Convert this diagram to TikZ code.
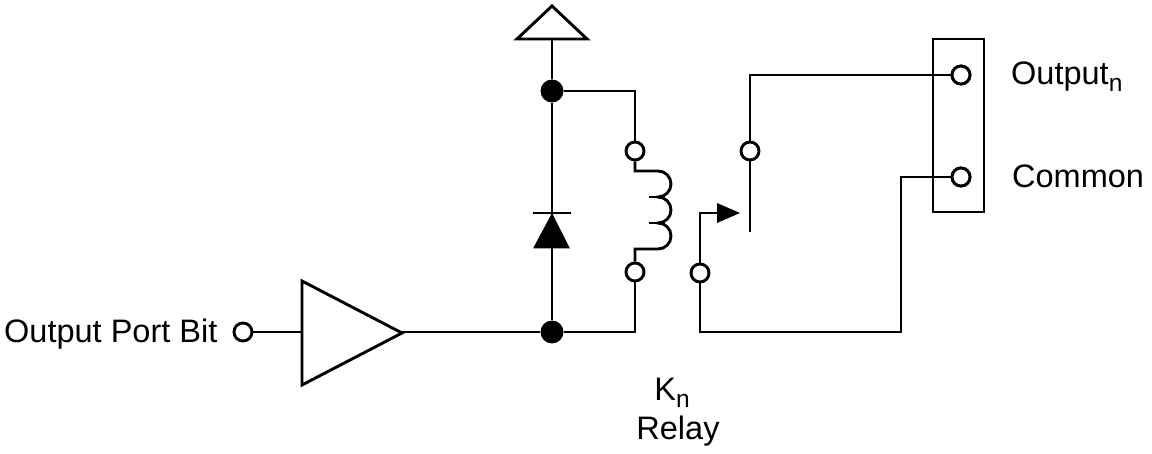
\documentclass[tikz,border=0pt]{standalone}
\usepackage{fontspec}
\setmainfont{Liberation Sans}
\tikzset{
  wire/.style={line width=2.9pt,line join=miter},
  pin/.style={circle,draw,line width=2.9pt,fill=white,inner sep=0pt,minimum size=18pt},
  junction/.style={circle,fill=black,inner sep=0pt,minimum size=23pt},
  lbl/.style={inner sep=0pt,anchor=base west,font=\fontsize{32.5}{36}\selectfont},
  lblc/.style={inner sep=0pt,anchor=base,font=\fontsize{32.5}{36}\selectfont}
}
\newcommand{\subn}{\raisebox{-7pt}{\fontsize{24.5}{26}\selectfont n}}
\begin{document}
\begin{tikzpicture}[x=1pt,y=-1pt]
\useasboundingbox (0,0) rectangle (1152,454);
% coordinates
\coordinate (vcc) at (552,39);
\coordinate (bufin) at (302,332);
\coordinate (bufout) at (402,332);
\coordinate (coiltop) at (635,171);
\coordinate (coilbot) at (635,249);
\coordinate (bladeend) at (750,232);
\coordinate (arrowbase) at (717,213);
\coordinate (cath) at (552,213);
% nodes
\node[junction] (jtop) at (552,91) {};
\node[junction] (jbot) at (552,332) {};
\node[pin] (pinin) at (243,332) {};
\node[pin] (c1) at (635,151) {};
\node[pin] (c2) at (635,272) {};
\node[pin] (sw) at (700,273) {};
\node[pin] (no) at (750,151) {};
\node[pin] (outp) at (961,75) {};
\node[pin] (comm) at (961,177) {};
% wires
\draw[wire] (vcc) -- (jtop);
\draw[wire] (jtop) -- (jbot);
\draw[wire] (jtop) -| (c1);
\draw[wire] (c2) |- (jbot);
\draw[wire] (pinin) -- (bufin);
\draw[wire] (bufout) -- (jbot);
\draw[wire] (c1) -- (coiltop) -- (658,171)
  arc[start angle=-90,end angle=90,radius=13pt,y radius=-13pt]
  arc[start angle=-90,end angle=90,radius=13pt,y radius=-13pt]
  arc[start angle=-90,end angle=90,radius=13pt,y radius=-13pt]
  -- (coilbot) -- (c2);
\draw[wire] (649,197) -- (660,197);
\draw[wire] (649,223) -- (660,223);
\draw[wire] (sw) |- (arrowbase);
\draw[wire] (sw.south) -- (700,332) -| (901,177) -- (comm);
\draw[wire] (bladeend) -- (no);
\draw[wire] (no) |- (outp);
% box
\draw[wire] (933,39) rectangle (984,212);
\node[pin] at (outp) {};
\node[pin] at (comm) {};
% symbols
\draw[wire,fill=white] (517,39) -- (552,6) -- (587,39) -- cycle;
\fill (533,248.5) -- (cath) -- (570,248.5) -- cycle;
\draw[wire] (533,213) -- (571,213);
\draw[wire] (302,281) -- (302,385) -- (402,333) -- cycle;
\fill (arrowbase) ++(0,-10) -- (740,213) -- (717,223) -- cycle;
% labels
\node[lbl] (t1) at (4,343) {Output Port Bit};
\node[lbl] (t2) at (1011,85) {Output\subn};
\node[lbl] (t3) at (1012,188) {Common};
\node[lblc] (t4) at (672,400) {K\subn};
\node[lblc] (t5) at (678,439) {Relay};
\end{tikzpicture}
\end{document}
